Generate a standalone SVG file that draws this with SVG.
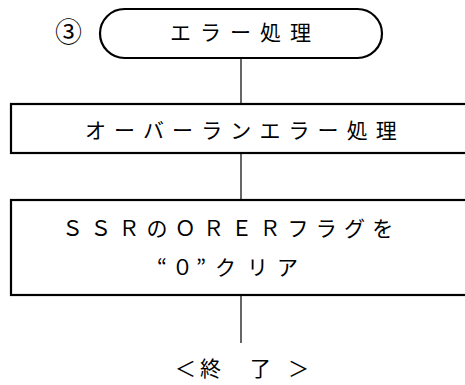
<svg xmlns="http://www.w3.org/2000/svg" width="465" height="385" viewBox="0 0 465 385">
<style>
.box{fill:#fff;stroke:#000;stroke-width:2.2}
.ln{stroke:#000;stroke-width:1.2;fill:none}
.t{font-family:"Noto Sans CJK JP","Noto Sans",sans-serif;font-size:21px;fill:#000}
</style>
<rect width="465" height="385" fill="#fff"/>
<g id="connectors">
<line class="ln" x1="241" y1="58" x2="241" y2="104"/>
<line class="ln" x1="241" y1="153" x2="241" y2="200"/>
<line class="ln" x1="241" y1="295" x2="241" y2="343"/>
</g>
<g id="label3">
<text class="t" x="68.5" y="42" text-anchor="middle" style="font-size:27px">③</text>
</g>
<g id="start">
<rect class="box" x="100" y="9" width="282" height="49" rx="24.5" ry="24.5"/>
<text class="t" x="170" y="40" letter-spacing="9">エラー処理</text>
</g>
<g id="overrun">
<rect class="box" x="11" y="104" width="460" height="49"/>
<text class="t" x="85" y="138" letter-spacing="8.1">オーバーランエラー処理</text>
</g>
<g id="clear">
<rect class="box" x="11" y="200" width="460" height="95"/>
<text class="t" x="62" y="236" letter-spacing="7.2">ＳＳＲのＯＲＥＲフラグを</text>
<text class="t" x="157 172 196 215 247 277" y="275">“０”クリア</text>
</g>
<g id="end">
<text class="t" x="175 200 227 250 288" y="376">＜終　了＞</text>
</g>
</svg>
